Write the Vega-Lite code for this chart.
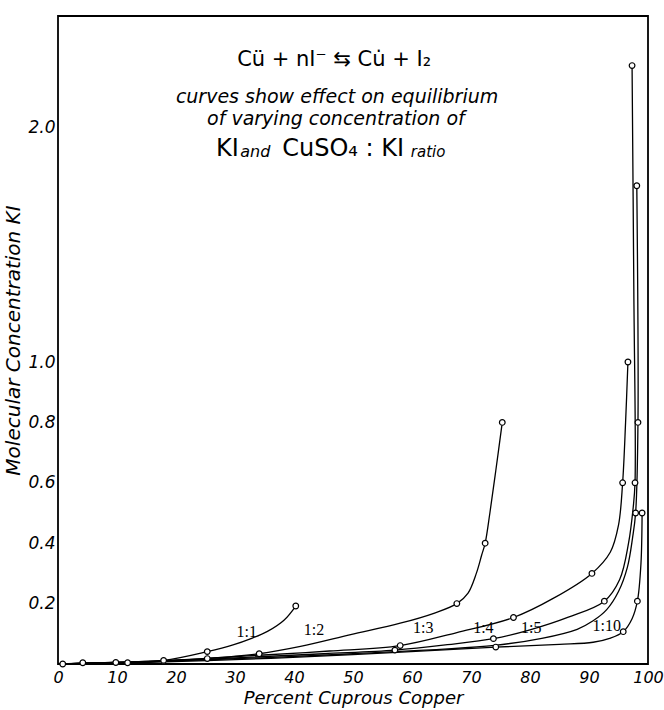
{
  "$schema": "https://vega.github.io/schema/vega-lite/v6.json",
  "width": 590,
  "height": 648,
  "autosize": {"type": "none"},
  "padding": {"left": 58, "top": 16, "right": 16, "bottom": 46},
  "background": "white",
  "config": {
    "view": {"stroke": "black", "strokeWidth": 1.8},
    "font": "DejaVu Sans"
  },
  "datasets": {
    "curves": [
      {"s": "1:1", "i": 1, "x": 0.8, "y": 0.0, "m": 1},
      {"s": "1:1", "i": 2, "x": 4.2, "y": 0.004, "m": 1},
      {"s": "1:1", "i": 3, "x": 9.8, "y": 0.005, "m": 1},
      {"s": "1:1", "i": 4, "x": 17.9, "y": 0.012, "m": 1},
      {"s": "1:1", "i": 5, "x": 25.3, "y": 0.041, "m": 1},
      {"s": "1:1", "i": 6, "x": 29.8, "y": 0.064, "m": 0},
      {"s": "1:1", "i": 7, "x": 32.7, "y": 0.084, "m": 0},
      {"s": "1:1", "i": 8, "x": 35.5, "y": 0.108, "m": 0},
      {"s": "1:1", "i": 9, "x": 38.3, "y": 0.145, "m": 0},
      {"s": "1:1", "i": 10, "x": 40.3, "y": 0.192, "m": 1},

      {"s": "1:2", "i": 1, "x": 0.8, "y": 0.0, "m": 0},
      {"s": "1:2", "i": 2, "x": 11.8, "y": 0.004, "m": 1},
      {"s": "1:2", "i": 3, "x": 17.9, "y": 0.010, "m": 0},
      {"s": "1:2", "i": 4, "x": 25.3, "y": 0.018, "m": 1},
      {"s": "1:2", "i": 5, "x": 34.1, "y": 0.034, "m": 1},
      {"s": "1:2", "i": 6, "x": 41.1, "y": 0.058, "m": 0},
      {"s": "1:2", "i": 7, "x": 49.6, "y": 0.097, "m": 0},
      {"s": "1:2", "i": 8, "x": 58.0, "y": 0.135, "m": 0},
      {"s": "1:2", "i": 9, "x": 63.7, "y": 0.168, "m": 0},
      {"s": "1:2", "i": 10, "x": 67.6, "y": 0.200, "m": 1},
      {"s": "1:2", "i": 11, "x": 69.5, "y": 0.235, "m": 0},
      {"s": "1:2", "i": 12, "x": 70.9, "y": 0.300, "m": 0},
      {"s": "1:2", "i": 13, "x": 71.8, "y": 0.360, "m": 0},
      {"s": "1:2", "i": 14, "x": 72.4, "y": 0.400, "m": 1},
      {"s": "1:2", "i": 15, "x": 73.2, "y": 0.500, "m": 0},
      {"s": "1:2", "i": 16, "x": 74.2, "y": 0.640, "m": 0},
      {"s": "1:2", "i": 17, "x": 75.3, "y": 0.800, "m": 1},

      {"s": "1:3", "i": 1, "x": 0.8, "y": 0.0, "m": 0},
      {"s": "1:3", "i": 2, "x": 17.9, "y": 0.011, "m": 0},
      {"s": "1:3", "i": 3, "x": 34.1, "y": 0.029, "m": 0},
      {"s": "1:3", "i": 4, "x": 46.0, "y": 0.043, "m": 0},
      {"s": "1:3", "i": 5, "x": 58.0, "y": 0.061, "m": 1},
      {"s": "1:3", "i": 6, "x": 67.6, "y": 0.104, "m": 0},
      {"s": "1:3", "i": 7, "x": 77.2, "y": 0.154, "m": 1},
      {"s": "1:3", "i": 8, "x": 84.0, "y": 0.218, "m": 0},
      {"s": "1:3", "i": 9, "x": 90.5, "y": 0.300, "m": 1},
      {"s": "1:3", "i": 10, "x": 93.6, "y": 0.370, "m": 0},
      {"s": "1:3", "i": 11, "x": 95.0, "y": 0.460, "m": 0},
      {"s": "1:3", "i": 12, "x": 95.7, "y": 0.600, "m": 1},
      {"s": "1:3", "i": 13, "x": 96.2, "y": 0.800, "m": 0},
      {"s": "1:3", "i": 14, "x": 96.6, "y": 1.000, "m": 1},

      {"s": "1:4", "i": 1, "x": 0.8, "y": 0.0, "m": 0},
      {"s": "1:4", "i": 2, "x": 25.3, "y": 0.016, "m": 0},
      {"s": "1:4", "i": 3, "x": 45.0, "y": 0.034, "m": 0},
      {"s": "1:4", "i": 4, "x": 57.1, "y": 0.046, "m": 1},
      {"s": "1:4", "i": 5, "x": 66.0, "y": 0.064, "m": 0},
      {"s": "1:4", "i": 6, "x": 73.8, "y": 0.084, "m": 1},
      {"s": "1:4", "i": 7, "x": 80.0, "y": 0.113, "m": 0},
      {"s": "1:4", "i": 8, "x": 86.5, "y": 0.155, "m": 0},
      {"s": "1:4", "i": 9, "x": 92.6, "y": 0.208, "m": 1},
      {"s": "1:4", "i": 10, "x": 95.2, "y": 0.280, "m": 0},
      {"s": "1:4", "i": 11, "x": 96.7, "y": 0.400, "m": 0},
      {"s": "1:4", "i": 12, "x": 97.5, "y": 0.520, "m": 0},
      {"s": "1:4", "i": 13, "x": 97.8, "y": 0.600, "m": 1},
      {"s": "1:4", "i": 14, "x": 97.6, "y": 1.300, "m": 0},
      {"s": "1:4", "i": 15, "x": 97.3, "y": 2.260, "m": 1},

      {"s": "1:5", "i": 1, "x": 0.8, "y": 0.0, "m": 0},
      {"s": "1:5", "i": 2, "x": 25.3, "y": 0.014, "m": 0},
      {"s": "1:5", "i": 3, "x": 50.0, "y": 0.034, "m": 0},
      {"s": "1:5", "i": 4, "x": 74.0, "y": 0.062, "m": 0},
      {"s": "1:5", "i": 5, "x": 82.0, "y": 0.085, "m": 0},
      {"s": "1:5", "i": 6, "x": 88.0, "y": 0.115, "m": 0},
      {"s": "1:5", "i": 7, "x": 90.7, "y": 0.143, "m": 0},
      {"s": "1:5", "i": 8, "x": 93.0, "y": 0.180, "m": 0},
      {"s": "1:5", "i": 9, "x": 95.0, "y": 0.240, "m": 0},
      {"s": "1:5", "i": 10, "x": 96.5, "y": 0.320, "m": 0},
      {"s": "1:5", "i": 11, "x": 97.4, "y": 0.420, "m": 0},
      {"s": "1:5", "i": 12, "x": 97.9, "y": 0.500, "m": 1},
      {"s": "1:5", "i": 13, "x": 98.3, "y": 0.800, "m": 1},
      {"s": "1:5", "i": 14, "x": 98.1, "y": 1.750, "m": 1},

      {"s": "1:10", "i": 1, "x": 0.8, "y": 0.0, "m": 0},
      {"s": "1:10", "i": 2, "x": 25.3, "y": 0.011, "m": 0},
      {"s": "1:10", "i": 3, "x": 50.0, "y": 0.031, "m": 0},
      {"s": "1:10", "i": 4, "x": 74.2, "y": 0.056, "m": 1},
      {"s": "1:10", "i": 5, "x": 85.0, "y": 0.065, "m": 0},
      {"s": "1:10", "i": 6, "x": 90.7, "y": 0.072, "m": 0},
      {"s": "1:10", "i": 7, "x": 93.5, "y": 0.085, "m": 0},
      {"s": "1:10", "i": 8, "x": 95.8, "y": 0.107, "m": 1},
      {"s": "1:10", "i": 9, "x": 97.3, "y": 0.150, "m": 0},
      {"s": "1:10", "i": 10, "x": 98.2, "y": 0.208, "m": 1},
      {"s": "1:10", "i": 11, "x": 98.8, "y": 0.330, "m": 0},
      {"s": "1:10", "i": 12, "x": 99.0, "y": 0.500, "m": 1}
    ],
    "labels": [
      {"s": "1:1", "x": 32.0, "y": 0.107},
      {"s": "1:2", "x": 43.4, "y": 0.112},
      {"s": "1:3", "x": 61.9, "y": 0.118},
      {"s": "1:4", "x": 72.1, "y": 0.118},
      {"s": "1:5", "x": 80.2, "y": 0.118},
      {"s": "1:10", "x": 93.0, "y": 0.125}
    ],
    "one": [{}]
  },
  "layer": [
    {
      "data": {"name": "curves"},
      "mark": {"type": "line", "interpolate": "catmull-rom", "color": "black", "strokeWidth": 1.3},
      "encoding": {
        "x": {
          "field": "x", "type": "quantitative",
          "scale": {"domain": [0, 100], "nice": false, "zero": false},
          "axis": {
            "values": [0, 10, 20, 30, 40, 50, 60, 70, 80, 90, 100],
            "format": "d", "ticks": false, "domain": false, "grid": false,
            "labelFont": "DejaVu Sans", "labelFontStyle": "italic", "labelFontSize": 16,
            "labelColor": "black", "labelPadding": 5, "labelFlush": false, "labelOverlap": false,
            "title": "Percent Cuprous Copper", "titleFont": "DejaVu Sans", "titleFontStyle": "italic",
            "titleFontWeight": "normal", "titleFontSize": 18, "titleColor": "black", "titlePadding": 4
          }
        },
        "y": {
          "field": "y", "type": "quantitative",
          "scale": {"domain": [0, 1, 2, 2.47], "range": [648, 346, 111, 0], "nice": false, "zero": false},
          "axis": {
            "values": [0.2, 0.4, 0.6, 0.8, 1, 2],
            "format": ".1f", "ticks": false, "domain": false, "grid": false,
            "labelFont": "DejaVu Sans", "labelFontStyle": "italic", "labelFontSize": 17,
            "labelColor": "black", "labelPadding": 3, "labelFlush": false, "labelOverlap": false,
            "title": "Molecular Concentration KI", "titleFont": "DejaVu Sans", "titleFontStyle": "italic",
            "titleFontWeight": "normal", "titleFontSize": 20, "titleColor": "black", "titlePadding": 4
          }
        },
        "detail": {"field": "s"},
        "order": {"field": "i", "type": "quantitative"}
      }
    },
    {
      "data": {"name": "curves"},
      "transform": [{"filter": "datum.m == 1"}],
      "mark": {"type": "point", "shape": "circle", "size": 32, "filled": true, "fill": "white", "stroke": "black", "strokeWidth": 1.2, "opacity": 1},
      "encoding": {
        "x": {"field": "x", "type": "quantitative", "scale": {"domain": [0, 100], "nice": false, "zero": false}},
        "y": {"field": "y", "type": "quantitative", "scale": {"domain": [0, 1, 2, 2.47], "range": [648, 346, 111, 0], "nice": false, "zero": false}}
      }
    },
    {
      "data": {"name": "labels"},
      "mark": {"type": "text", "font": "Liberation Serif", "fontSize": 16, "color": "black", "align": "center", "baseline": "middle"},
      "encoding": {
        "x": {"field": "x", "type": "quantitative", "scale": {"domain": [0, 100], "nice": false, "zero": false}},
        "y": {"field": "y", "type": "quantitative", "scale": {"domain": [0, 1, 2, 2.47], "range": [648, 346, 111, 0], "nice": false, "zero": false}},
        "text": {"field": "s"}
      }
    },
    {
      "data": {"name": "one"},
      "mark": {"type": "text", "text": "Cü + nI⁻ ⇆ Cu̇ + I₂", "font": "DejaVu Sans", "fontSize": 21, "color": "black", "align": "center", "baseline": "middle"},
      "encoding": {
        "x": {"datum": 46.8, "type": "quantitative", "scale": {"domain": [0, 100], "nice": false, "zero": false}},
        "y": {"datum": 2.284, "type": "quantitative", "scale": {"domain": [0, 1, 2, 2.47], "range": [648, 346, 111, 0], "nice": false, "zero": false}}
      }
    },
    {
      "data": {"name": "one"},
      "mark": {"type": "text", "text": "curves show effect on equilibrium", "font": "DejaVu Sans", "fontStyle": "italic", "fontSize": 19, "color": "black", "align": "center", "baseline": "middle"},
      "encoding": {
        "x": {"datum": 47.3, "type": "quantitative", "scale": {"domain": [0, 100], "nice": false, "zero": false}},
        "y": {"datum": 2.127, "type": "quantitative", "scale": {"domain": [0, 1, 2, 2.47], "range": [648, 346, 111, 0], "nice": false, "zero": false}}
      }
    },
    {
      "data": {"name": "one"},
      "mark": {"type": "text", "text": "of varying concentration of", "font": "DejaVu Sans", "fontStyle": "italic", "fontSize": 19, "color": "black", "align": "center", "baseline": "middle"},
      "encoding": {
        "x": {"datum": 47.1, "type": "quantitative", "scale": {"domain": [0, 100], "nice": false, "zero": false}},
        "y": {"datum": 2.034, "type": "quantitative", "scale": {"domain": [0, 1, 2, 2.47], "range": [648, 346, 111, 0], "nice": false, "zero": false}}
      }
    },
    {
      "data": {"name": "one"},
      "mark": {"type": "text", "text": "KI", "font": "DejaVu Sans", "fontSize": 24, "color": "black", "align": "left", "baseline": "middle"},
      "encoding": {
        "x": {"datum": 26.8, "type": "quantitative", "scale": {"domain": [0, 100], "nice": false, "zero": false}},
        "y": {"datum": 1.906, "type": "quantitative", "scale": {"domain": [0, 1, 2, 2.47], "range": [648, 346, 111, 0], "nice": false, "zero": false}}
      }
    },
    {
      "data": {"name": "one"},
      "mark": {"type": "text", "text": "and", "font": "DejaVu Sans", "fontStyle": "italic", "fontSize": 16, "color": "black", "align": "left", "baseline": "middle"},
      "encoding": {
        "x": {"datum": 30.9, "type": "quantitative", "scale": {"domain": [0, 100], "nice": false, "zero": false}},
        "y": {"datum": 1.895, "type": "quantitative", "scale": {"domain": [0, 1, 2, 2.47], "range": [648, 346, 111, 0], "nice": false, "zero": false}}
      }
    },
    {
      "data": {"name": "one"},
      "mark": {"type": "text", "text": "CuSO₄ : KI", "font": "DejaVu Sans", "fontSize": 24, "color": "black", "align": "left", "baseline": "middle"},
      "encoding": {
        "x": {"datum": 38.0, "type": "quantitative", "scale": {"domain": [0, 100], "nice": false, "zero": false}},
        "y": {"datum": 1.906, "type": "quantitative", "scale": {"domain": [0, 1, 2, 2.47], "range": [648, 346, 111, 0], "nice": false, "zero": false}}
      }
    },
    {
      "data": {"name": "one"},
      "mark": {"type": "text", "text": "ratio", "font": "DejaVu Sans", "fontStyle": "italic", "fontSize": 15, "color": "black", "align": "left", "baseline": "middle"},
      "encoding": {
        "x": {"datum": 59.8, "type": "quantitative", "scale": {"domain": [0, 100], "nice": false, "zero": false}},
        "y": {"datum": 1.895, "type": "quantitative", "scale": {"domain": [0, 1, 2, 2.47], "range": [648, 346, 111, 0], "nice": false, "zero": false}}
      }
    }
  ]
}
